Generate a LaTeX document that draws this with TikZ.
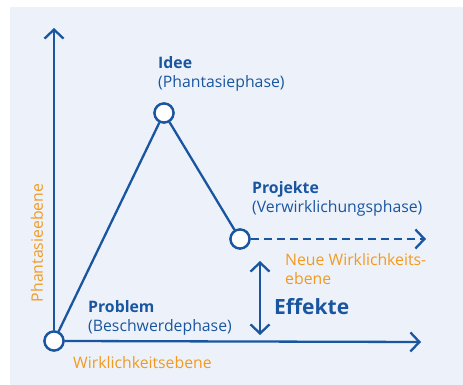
\documentclass[tikz,border=0pt]{standalone}
\usepackage{fontspec}
\setmainfont{Open Sans}
\usetikzlibrary{arrows.meta,positioning}
\definecolor{blau}{HTML}{1A56A0}
\definecolor{orange}{HTML}{F29A1F}
\definecolor{grund}{HTML}{EDF2FA}
\tikzset{
	linie/.style={draw=blau,line width=2.3pt},
	pfeil/.style={linie,-{Straight Barb[length=9pt,width=19pt]}},
	punkt/.style={circle,linie,fill=white,minimum size=19pt,inner sep=0pt},
	phase/.style={text=blau,align=left,anchor=west,font=\fontsize{15.8}{18.5}\selectfont,inner sep=0pt},
	ebene/.style={text=orange,align=left,anchor=west,font=\fontsize{15.8}{18.5}\selectfont,inner sep=0pt}
}

\begin{document}
\begin{tikzpicture}[x=1pt,y=1pt]
					%HINTERGRUND
					\fill[white] (0,0) rectangle (463,385);
					\fill[grund] (10,0) rectangle (463,378);
					\useasboundingbox (0,0) rectangle (463,385);
					%PUNKTE
					\coordinate (yende) at (54,357);
					\coordinate (xende) at (421,43);
					\node[punkt] (problem) at (54,44) {};
					\node[punkt] (idee) at (164,272) {};
					\node[punkt] (projekte) at (240,146) {};
					\coordinate (neu) at (426,146);
					\coordinate (eoben) at (260,124);
					\coordinate (eunten) at (260,50);
					%ACHSEN
					\draw[pfeil] (problem.north) -- (yende);
					\draw[pfeil] (problem.east) -- (xende);
					\draw[linie] (problem) -- (idee) -- (projekte);
					\draw[pfeil,dash pattern=on 8pt off 5pt] (projekte.east) -- (neu);
					\draw[pfeil,{Straight Barb[length=9pt,width=19pt]}-{Straight Barb[length=9pt,width=19pt]}] (eunten) -- (eoben);
					\node[punkt] at (problem) {};
					\node[punkt] at (idee) {};
					\node[punkt] at (projekte) {};
					%TEXTE
					\node[phase] (tidee) at (158,311) {\textbf{Idee}\\(Phantasiephase)};
					\node[phase] (tprojekte) at (252,186) {\textbf{Projekte}\\(Verwirklichungsphase)};
					\node[phase] (tproblem) at (88,67) {\textbf{Problem}\\(Beschwerdephase)};
					\node[text=blau,font=\fontsize{21}{24}\selectfont\bfseries,anchor=west,inner sep=0pt] (effekte) at (274,78) {Effekte};
					\node[ebene] (tneu) at (285,116) {Neue Wirklichkeits-\\ebene};
					\node[ebene] (twirk) at (73,22) {Wirklichkeitsebene};
					\node[ebene,anchor=center,rotate=90] (tphant) at (37,142) {Phantasieebene};
\end{tikzpicture}
\end{document}
